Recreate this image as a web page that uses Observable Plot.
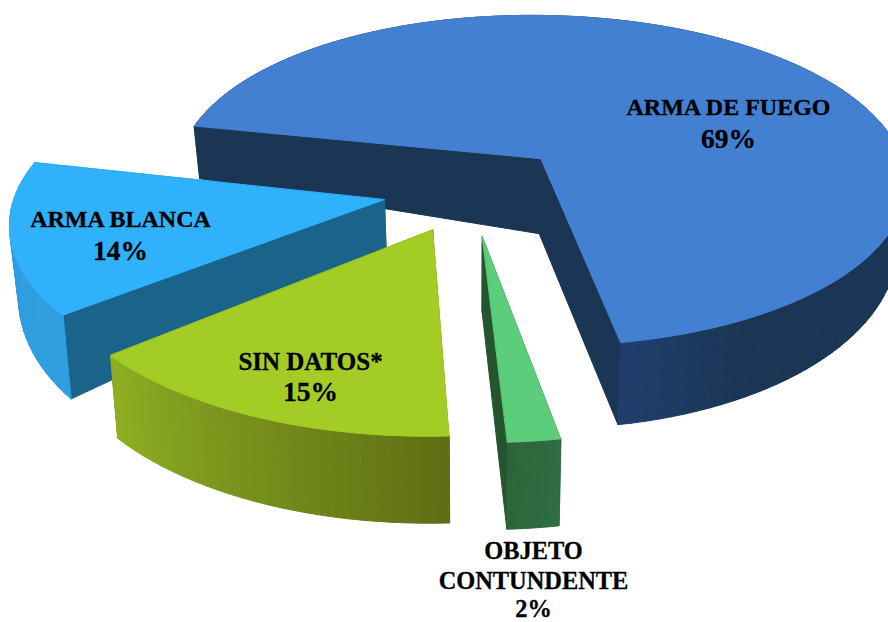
<!DOCTYPE html>
<html>
<head>
<meta charset="utf-8">
<script src="https://cdn.jsdelivr.net/npm/d3@7"></script>
<script src="https://cdn.jsdelivr.net/npm/@observablehq/plot@0.6"></script>
<style>html,body{margin:0;padding:0;background:#fff}svg{display:block}</style>
</head>
<body>
<div id="chart"></div>
<script>
const categories = ["ARMA DE FUEGO", "OBJETO CONTUNDENTE", "SIN DATOS*", "ARMA BLANCA"];
const shares = [69, 2, 15, 14];
const topColors = ["#4480d2", "#5ccd7a", "#a3cc24", "#30b1fb"];
const rimFrom = ["#1f3e6b", "#2f6e42", "#5f6f14", "#2f9fe0"];
const rimTo = ["#1a3654", "#2d653a", "#8eae22", "#2f9cdc"];
const wallColors = ["#1a3654", "#25552f", "#5f6f14", "#1a648b"];
const explode = [100, 97, 90, 88];
const radii = [370, 368, 372, 368];
const apexDepth = [75, 75, 75, 52];
const rimBoost = [0, 0, 0, 5];
const angleNudgeStart = [1.2, 0.7, 1.1, 2];
const angleNudgeEnd = [1, 0.7, 0.6, 2];
const drawOrder = [0, 3, 2, 1];
const labelX = [728, 533, 310, 120];
const labelY = [[114, 147], [558, 588, 616.5], [369, 400], [226, 259]];
const labelLines = [["ARMA DE FUEGO", "69%"], ["OBJETO", "CONTUNDENTE", "2%"], ["SIN DATOS*", "15%"], ["ARMA BLANCA", "14%"]];
const labelSizes = [24, 24.4, 25, 24];
const percentSizes = [27.5, 24.4, 27.5, 27.5];

// view of the tilted disc
const startAngle = 190.5, X0 = 470, Y0 = 190, tilt = 0.4687, persp = 0.000341, narrow = 0.02;
const rad = Math.PI / 180;
const project = (u, v, z, d) => {
  const w = 1 + persp * v;
  const s = w * (1 - narrow * z);
  return {x: X0 + u * s, y: Y0 + tilt * v * w + z * d};
};
const rimDepth = v => v < 290 ? 53 + (v + 139) * (29 / 430) : Math.min(87, 82 + (v - 290) * 0.03);

const polys = [];
let pid = 0;
const addPoly = (pts, color) => { pid++; pts.forEach(p => polys.push({x: p.x, y: p.y, id: pid, color})); };

let a = startAngle;
const slices = shares.map((s, i) => {
  const a0 = a, a1 = a + s * 3.6; a = a1;
  const mid = (a0 + a1) / 2 * rad;
  return {i, a0: a0 + angleNudgeStart[i], a1: a1 + angleNudgeEnd[i], cu: explode[i] * Math.cos(mid + angleNudgeStart[i] * rad), cv: explode[i] * Math.sin(mid + angleNudgeStart[i] * rad)};
});

drawOrder.map(i => slices[i]).forEach(({i, a0, a1, cu, cv}) => {
  const n = Math.max(8, Math.round((a1 - a0) / 2));
  const R = radii[i];
  const rim = d3.range(n + 1).map(k => {
    const t = (a0 + (a1 - a0) * k / n) * rad;
    return {u: cu + R * Math.cos(t), v: cv + R * Math.sin(t)};
  });
  const top = p => project(p.u, p.v, 0, 0);
  const bot = p => project(p.u, p.v, 1, rimDepth(p.v) + rimBoost[i]);
  const apexTop = top({u: cu, v: cv}), apexBot = project(cu, cv, 1, apexDepth[i]);
  // straight inner walls
  addPoly([apexTop, top(rim[0]), bot(rim[0]), apexBot], wallColors[i]);
  addPoly([apexTop, top(rim[n]), bot(rim[n]), apexBot], wallColors[i]);
  // outer rim, shaded along its length
  const mix = d3.interpolateRgb(rimFrom[i], rimTo[i]);
  const steps = d3.range(n);
  (i === 0 ? [...steps].reverse() : steps).forEach((k, idx) => {
    const t = idx / Math.max(1, n - 1);
    const c = mix(i === 0 ? Math.min(1, t * 14) : t);
    addPoly([top(rim[k]), top(rim[k + 1]), bot(rim[k + 1]), bot(rim[k])], c);
  });
  // top face
  addPoly([apexTop, ...rim.map(top)], topColors[i]);
});

const labels = labelLines.flatMap((lines, i) => lines.map((text, j) => ({
  text, x: labelX[i], y: labelY[i][j], size: j === lines.length - 1 ? percentSizes[i] : labelSizes[i]
})));

const plot = Plot.plot({
  width: 888, height: 622, margin: 0,
  x: {domain: [0, 888], range: [0, 888], axis: null},
  y: {domain: [0, 622], range: [0, 622], axis: null},
  color: {type: "identity"},
  marks: [
    Plot.line(polys, {x: "x", y: "y", z: "id", fill: "color", stroke: "color", strokeWidth: 1, curve: "linear-closed"}),
    Plot.text(labels, {x: "x", y: "y", text: "text", fill: "#000", stroke: "#000", strokeWidth: 0.3, fontWeight: "bold", fontSize: "size", fontFamily: "Liberation Serif", textAnchor: "middle", lineAnchor: "bottom"})
  ]
});
plot.style.fontFamily = "Liberation Serif";
document.getElementById("chart").appendChild(plot);
</script>
</body>
</html>
